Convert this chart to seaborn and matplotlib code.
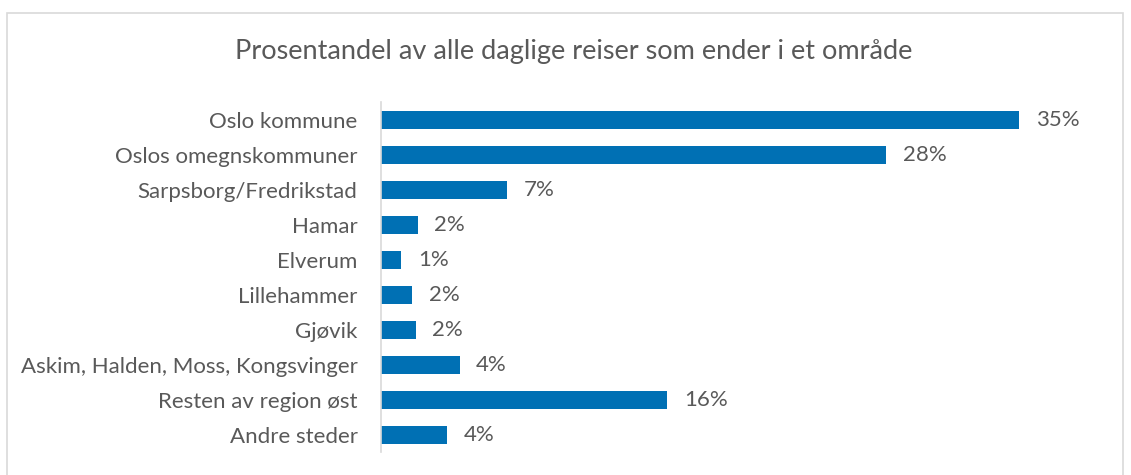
import pandas as pd
import matplotlib.pyplot as plt
import seaborn as sns
from matplotlib.patches import Rectangle

categories = ['Oslo kommune', 'Oslos omegnskommuner', 'Sarpsborg/Fredrikstad', 'Hamar',
              'Elverum', 'Lillehammer', 'Gjøvik', 'Askim, Halden, Moss, Kongsvinger',
              'Resten av region øst', 'Andre steder']
shares = [35.0, 27.7, 6.9, 2.0, 1.1, 1.7, 1.9, 4.3, 15.7, 3.6]
title = 'Prosentandel av alle daglige reiser som ender i et område'

BLUE = '#0070B4'
TEXT = '#595959'

df = pd.DataFrame({'omrade': categories, 'andel': shares})

sns.set_theme(style='white')
plt.rcParams['font.family'] = ['Lato', 'DejaVu Sans']

fig = plt.figure(figsize=(11.31, 4.75), dpi=100)
ax = fig.add_axes([0.337, 0.048, 0.645, 0.737])

sns.barplot(data=df, x='andel', y='omrade', color=BLUE, width=0.52,
            saturation=1, ax=ax, edgecolor='none')

ax.set_xlim(0, 40)
ax.set_xlabel('')
ax.set_ylabel('')
ax.set_xticks([])
ax.tick_params(axis='y', length=0, pad=17, labelsize=16, labelcolor=TEXT)
for s in ['top', 'right', 'bottom']:
    ax.spines[s].set_visible(False)
ax.spines['left'].set_color('#D9D9D9')
ax.spines['left'].set_linewidth(1.2)

for p, v in zip(ax.patches, shares):
    ax.annotate(f'{v:.0f}%', (p.get_width(), p.get_y() + p.get_height() / 2),
                xytext=(12, 0), textcoords='offset points', ha='left', va='center',
                fontsize=16, color=TEXT)

fig.text(0.5075, 1 - 52 / 475, title, ha='center', va='center', fontsize=19.5, color=TEXT)

# chart frame
fig.patches.append(Rectangle((7 / 1131, -0.05), (1123 - 7) / 1131, 1.05 - 13 / 475,
                             transform=fig.transFigure, fill=False,
                             edgecolor='#D9D9D9', linewidth=1.2))

fig.savefig('out.png', dpi=100)
